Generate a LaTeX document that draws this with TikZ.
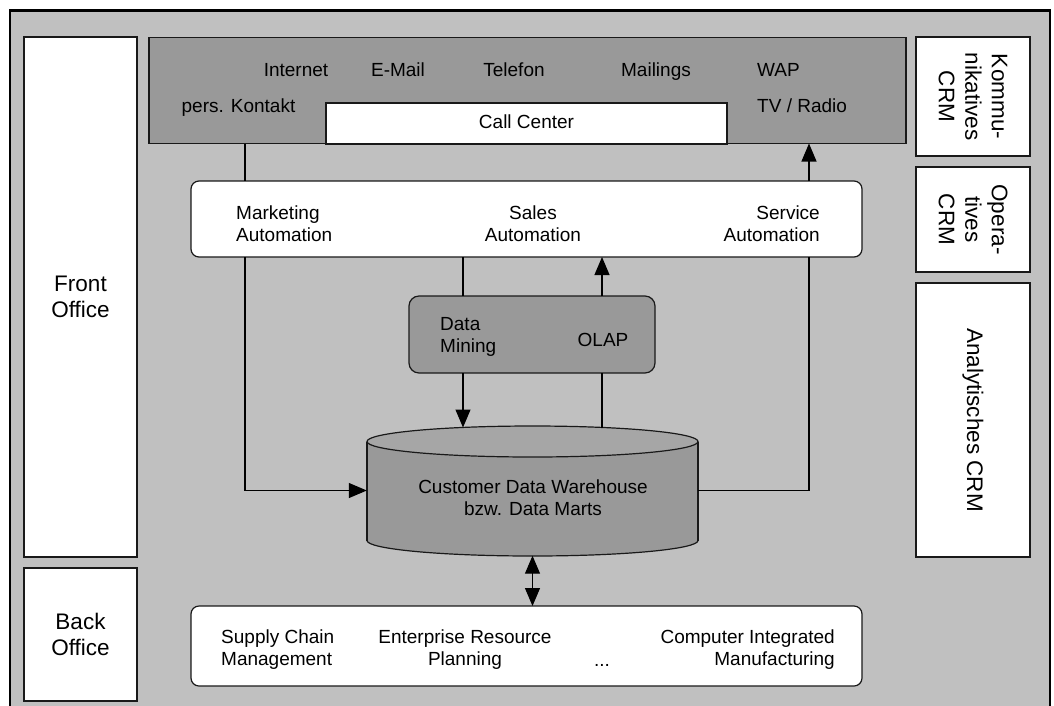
\documentclass[tikz,border=0pt]{standalone}
\usepackage{fontspec}
\setmainfont{Liberation Sans}
\usetikzlibrary{arrows.meta}
\definecolor{panel}{RGB}{192,192,192}
\definecolor{darkbox}{RGB}{153,153,153}
\definecolor{cyltop}{RGB}{166,166,166}
\definecolor{edge}{RGB}{25,25,25}
\begin{document}
\begin{tikzpicture}[x=1pt,y=-1pt,
  box/.style={draw=edge, line width=1.2pt, inner sep=0pt, outer sep=0pt},
  sidebox/.style={box, fill=white, align=center, font=\fontsize{22.5}{26.5}\selectfont},
  lbl/.style={inner sep=0pt, font=\fontsize{19}{21.5}\selectfont},
  one/.style={lbl, text height=13.5pt, text depth=4pt},
  conn/.style={draw=black, line width=1.1pt},
  tip/.tip={Triangle[length=18pt,width=15pt]},
  arr/.style={conn, -tip},
  dbl/.style={conn, tip-tip},
]
\useasboundingbox (0,0) rectangle (1054,705);
\fill[white] (0,0) rectangle (1054,705);
% outer panel
\filldraw[fill=panel, draw=black, line width=2pt] (10,10) rectangle (1050,720);
\draw[line width=3pt] (9,10) -- (1051,10);

% left column
\node[sidebox, minimum width=113pt, minimum height=520pt] (front) at (80.5,297) {Front\\Office};
\node[sidebox, minimum width=113pt, minimum height=133pt] (back) at (80.5,634.5) {Back\\Office};

% right column (rotated labels)
\node[sidebox, rotate=-90, minimum width=119pt, minimum height=114pt] (kom) at (973,96.5) {Kommu-\\nikatives\\CRM};
\node[sidebox, rotate=-90, minimum width=105pt, minimum height=114pt] (ope) at (973,219.5) {Opera-\\tives\\CRM};
\node[sidebox, rotate=-90, minimum width=274pt, minimum height=114pt] (ana) at (973,420) {Analytisches CRM};

% communication channels
\node[box, fill=darkbox, minimum width=757pt, minimum height=106pt] (chan) at (527.5,90.5) {};
\node[box, fill=white, minimum width=401pt, minimum height=41pt, one] (callc) at (526.5,123.5) {Call Center};
\node[one] (internet) at (296,72) {Internet};
\node[one] (email) at (398,72) {E-Mail};
\node[one] (telefon) at (514,72) {Telefon};
\node[one] (mailings) at (656,72) {Mailings};
\node[one, anchor=west] (wap) at (757,72) {WAP};
\node[one] (pers) at (238.5,108) {pers. Kontakt};
\node[one, anchor=west] (tvradio) at (757,108) {TV / Radio};

% operative layer
\node[box, fill=white, rounded corners=8pt, minimum width=671pt, minimum height=76pt] (auto) at (526.5,219) {};
\node[lbl, align=left, anchor=west] (mkt) at (236,223.5) {Marketing\\Automation};
\node[lbl, align=center] (sales) at (533,223.5) {Sales\\Automation};
\node[lbl, align=right, anchor=east] (service) at (820,223.5) {Service\\Automation};

% analytical layer
\node[box, fill=darkbox, rounded corners=10pt, minimum width=246pt, minimum height=77pt] (dm) at (532,334.5) {};
\node[lbl, align=left, anchor=west] (mining) at (440,337) {Data\\Mining};
\node[one] (olap) at (603,342) {OLAP};

% data warehouse cylinder
\fill[darkbox] (532.5,540.5) ellipse[x radius=165.5, y radius=15.5];
\fill[darkbox] (367,441.5) rectangle (698,540.5);
\begin{scope}
  \clip (350,540.5) rectangle (715,580);
  \draw[edge, line width=1.2pt] (532.5,540.5) ellipse[x radius=165.5, y radius=15.5];
\end{scope}
\draw[edge, line width=1.2pt] (367,441.5) -- (367,540.5) (698,441.5) -- (698,540.5);
\filldraw[fill=cyltop, draw=edge, line width=1.2pt] (532.5,441.5) ellipse[x radius=165.5, y radius=15.5];
\node[inner sep=0pt, minimum width=331pt, minimum height=130pt] (dwh) at (532.5,490.5) {};
\node[lbl, align=center] (dwhtext) at (533,497.5) {Customer Data Warehouse\\bzw. Data Marts};
\coordinate (dwhA) at (463,427.5);
\coordinate (dwhB) at (602,427.5);

% back office systems
\node[box, fill=white, rounded corners=8pt, minimum width=671pt, minimum height=80pt] (erp) at (526.5,646) {};
\node[lbl, align=left, anchor=west] (scm) at (221,649.5) {Supply Chain\\Management};
\node[lbl, align=center] (erplbl) at (465,649.5) {Enterprise Resource\\Planning};
\node[one] (dots) at (602,662) {...};
\node[lbl, align=right, anchor=east] (cim) at (835,649.5) {Computer Integrated\\Manufacturing};

% connector columns
\coordinate (xL) at (245,0);
\coordinate (xA) at (463,0);
\coordinate (xB) at (602,0);
\coordinate (xR) at (809,0);

\draw[conn] (chan.south -| xL) -- (auto.north -| xL);
\draw[arr] (auto.south -| xL) |- (dwh.west);
\draw[arr] (auto.north -| xR) -- (chan.south -| xR);
\draw[conn] (dwh.east) -| (auto.south -| xR);
\draw[conn] (auto.south -| xA) -- (dm.north -| xA);
\draw[arr] (dm.north -| xB) -- (auto.south -| xB);
\draw[arr] (dm.south -| xA) -- (dwhA);
\draw[conn] (dwhB) -- (dm.south -| xB);
\draw[dbl] (dwh.south) -- (dwh.south |- erp.north);
\end{tikzpicture}
\end{document}
